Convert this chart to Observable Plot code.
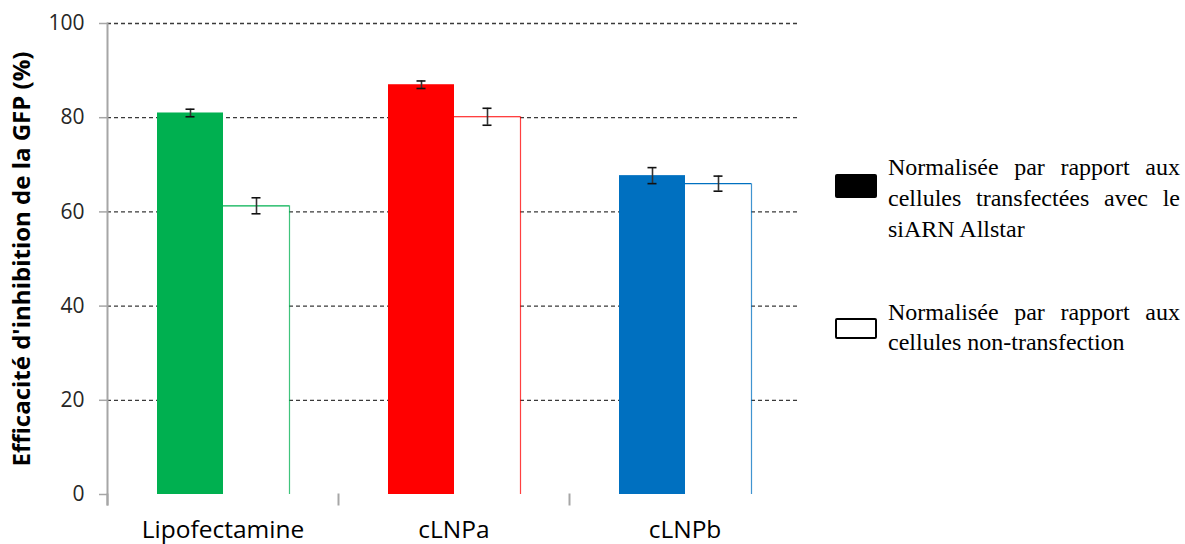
<!DOCTYPE html>
<html>
<head>
<meta charset="utf-8">
<script src="https://cdn.jsdelivr.net/npm/d3@7"></script>
<script src="https://cdn.jsdelivr.net/npm/@observablehq/plot@0.6"></script>
<style>
  html, body { margin: 0; padding: 0; background: #fff; }
  #wrap { position: relative; width: 1185px; height: 544px; overflow: hidden; }
  .leg-item { position: absolute; left: 835px; }
  .leg-key { position: absolute; left: 0; box-sizing: border-box; width: 42px; border-radius: 2px; }
  .leg-text { position: absolute; left: 53px; width: 292px; font-family: "Liberation Serif", serif; font-size: 24px; color: #000; }
  .leg-line { text-align: justify; text-align-last: justify; white-space: nowrap; }
  .leg-line.last { text-align-last: left; }
</style>
</head>
<body>
<div id="wrap"></div>
<script>
// ---- data ----
const categories = ["Lipofectamine", "cLNPa", "cLNPb"];
const seriesKeys = ["allstar", "nonTransfection"];
const allstarValues = [81.0, 87.0, 67.7];
const allstarErrors = [0.8, 0.8, 1.7];
const nonTransValues = [61.3, 80.2, 66.0];
const nonTransErrors = [1.7, 1.8, 1.6];
const categoryColors = ["#00b050", "#ff0000", "#0070c0"];
const yTicks = [0, 20, 40, 60, 80, 100];
const yTitle = "Efficacité d'inhibition de la GFP (%)";
const legendLines = [
  ["Normalisée par rapport aux", "cellules transfectées avec le", "siARN Allstar"],
  ["Normalisée par rapport aux", "cellules non-transfection"]
];

// ---- table ----
const rows = [];
categories.forEach((c, i) => {
  rows.push({category: c, series: seriesKeys[0], value: allstarValues[i], err: allstarErrors[i], color: categoryColors[i]});
  rows.push({category: c, series: seriesKeys[1], value: nonTransValues[i], err: nonTransErrors[i], color: categoryColors[i]});
});
const openRows = rows.filter(d => d.series === seriesKeys[1]);

const chart = Plot.plot({
  width: 1185,
  height: 544,
  marginTop: 23,
  marginBottom: 50,
  marginLeft: 107,
  marginRight: 385,
  style: {fontFamily: "'Open Sans', sans-serif", background: "#fff"},
  fx: {domain: categories, padding: 0},
  x: {domain: seriesKeys, paddingInner: 0, paddingOuter: 0.75, axis: null},
  y: {domain: [0, 100], axis: null},
  marks: [
    Plot.gridY(yTicks.filter(t => t > 0), {stroke: "#3a3a3a", strokeOpacity: 1, strokeWidth: 1.3, strokeDasharray: "4,3"}),
    Plot.barY(rows, {
      fx: "category", x: "series", y: "value",
      fill: d => d.series === seriesKeys[0] ? d.color : "#ffffff"
    }),
    // outline of the open bars: top edge and right edge
    Plot.tickY(openRows, {fx: "category", x: "series", y: "value", stroke: "color", strokeWidth: 1.2}),
    Plot.ruleX(openRows, {fx: "category", x: "series", y1: 0, y2: "value", dx: 33, stroke: "color", strokeWidth: 1.2, strokeOpacity: 0.75}),
    Plot.ruleX(rows, {fx: "category", x: "series", y1: d => d.value - d.err, y2: d => d.value + d.err, stroke: "#333", strokeWidth: 1.6}),
    Plot.tickY(rows, {fx: "category", x: "series", y: d => d.value + d.err, stroke: "#111", strokeWidth: 1.6, insetLeft: 28.5, insetRight: 28.5}),
    Plot.tickY(rows, {fx: "category", x: "series", y: d => d.value - d.err, stroke: "#111", strokeWidth: 1.6, insetLeft: 28.5, insetRight: 28.5}),
    // vertical axis line
    Plot.frame({anchor: "left", facetAnchor: "left", stroke: "#a6a6a6", strokeWidth: 2, insetBottom: -10}),
    // category boundary ticks
    Plot.frame({anchor: "left", stroke: "#a6a6a6", strokeWidth: 2, insetTop: 471, insetBottom: -10}),
    Plot.axisY(yTicks, {anchor: "left", tickSize: 8, tickPadding: 15, fontSize: 21, stroke: "#a6a6a6", strokeWidth: 1.5, fill: "#262626", label: null}),
    Plot.text([yTitle], {frameAnchor: "left", facetAnchor: "left", dx: -85, rotate: -90, textAnchor: "middle", fontSize: 24, fontWeight: "bold", fill: "#000"}),
    Plot.axisFx({anchor: "bottom", tickSize: 0, tickPadding: 26, fontSize: 24.5, fill: "#000", label: null})
  ]
});

const wrap = document.getElementById("wrap");
wrap.appendChild(chart);

// ---- legend (HTML, to the right of the plot) ----
const legendLayout = [
  {top: 152, lineHeight: 31, keyTop: 22, keyH: 24, fill: "#000", border: "none"},
  {top: 297, lineHeight: 30, keyTop: 21, keyH: 21, fill: "#fff", border: "2.5px solid #000"}
];
legendLines.forEach((lines, k) => {
  const L = legendLayout[k];
  const item = document.createElement("div");
  item.className = "leg-item";
  item.style.top = L.top + "px";
  const key = document.createElement("div");
  key.className = "leg-key";
  key.style.top = L.keyTop + "px";
  key.style.height = L.keyH + "px";
  key.style.background = L.fill;
  key.style.border = L.border;
  item.appendChild(key);
  const txt = document.createElement("div");
  txt.className = "leg-text";
  txt.style.top = "0px";
  txt.style.lineHeight = L.lineHeight + "px";
  lines.forEach((ln, j) => {
    const d = document.createElement("div");
    d.className = "leg-line" + (j === lines.length - 1 ? " last" : "");
    d.textContent = ln;
    txt.appendChild(d);
  });
  item.appendChild(txt);
  wrap.appendChild(item);
});
</script>
</body>
</html>
